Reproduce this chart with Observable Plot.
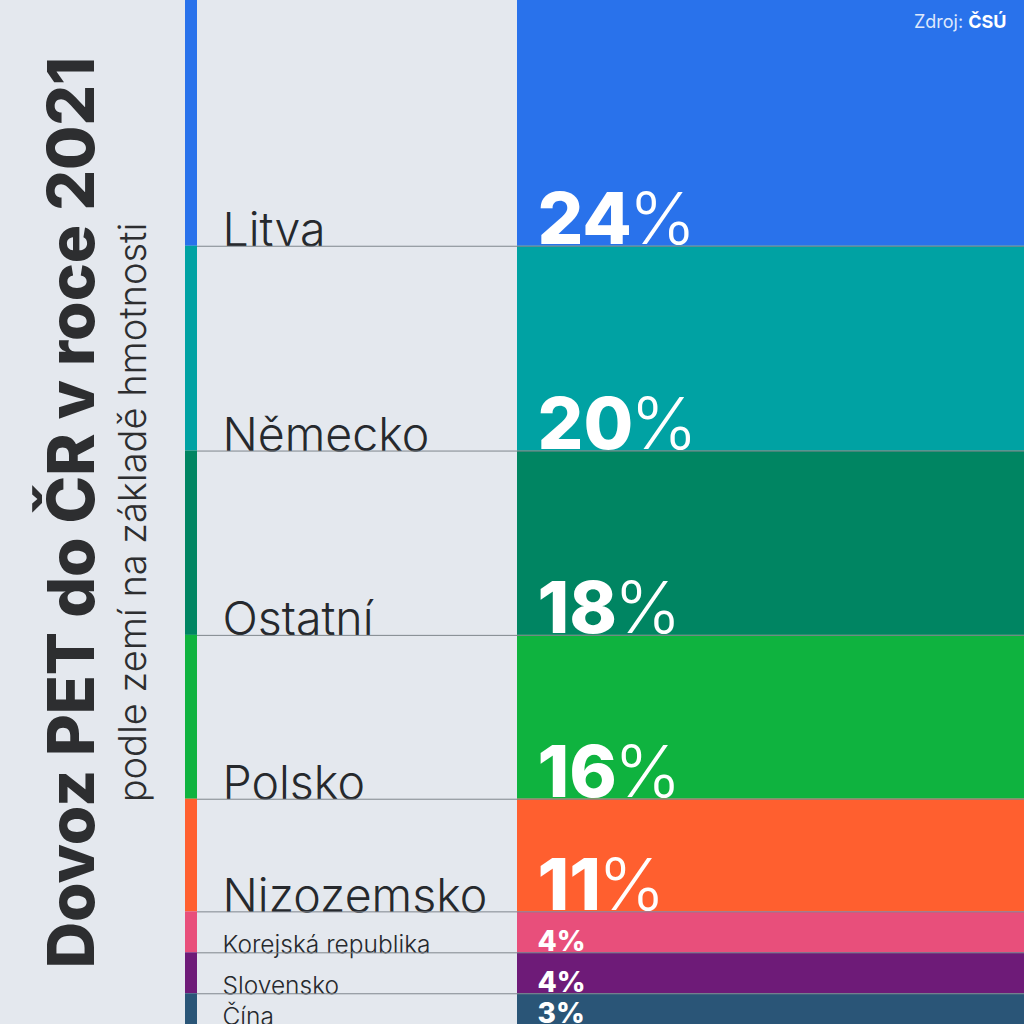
<!DOCTYPE html>
<html>
<head>
<meta charset="utf-8">
<script src="https://cdn.jsdelivr.net/npm/d3@7"></script>
<script src="https://cdn.jsdelivr.net/npm/@observablehq/plot@0.6"></script>
<style>
  html, body { margin: 0; padding: 0; background: #e4e8ee; }
  svg { display: block; }
</style>
</head>
<body>
<div id="chart"></div>
<script>
const countries = ["Litva", "Německo", "Ostatní", "Polsko", "Nizozemsko", "Korejská republika", "Slovensko", "Čína"];
const shares = [24, 20, 18, 16, 11, 4, 4, 3];
const colors = ["#2972eb", "#00a2a3", "#008562", "#0fb33f", "#ff5f2f", "#e84f7b", "#6e1b78", "#2a5577"];
const title = "Dovoz PET do ČR v roce 2021";
const subtitle = "podle zemí na základě hmotnosti";
const sourceLabel = "Zdroj:";
const sourceName = "ČSÚ";

// build a table with cumulative positions
let acc = 0;
const rows = countries.map((c, i) => {
  const y1 = acc; acc += shares[i];
  return {country: c, share: shares[i], color: colors[i], y1, y2: acc, big: shares[i] >= 10};
});

const FONT = "Inter, 'Noto Sans', sans-serif";
const W = 1024, H = 1024;
const stripX1 = 185, stripX2 = 197, barX1 = 517, labelX = 222, pctX = 537;

const chart = Plot.plot({
  width: W, height: H,
  margin: 0,
  style: {background: "#e4e8ee", fontFamily: FONT, overflow: "visible"},
  x: {type: "linear", domain: [0, W], range: [0, W], axis: null},
  y: {type: "linear", domain: [0, 100], range: [0, H], axis: null},
  color: {type: "identity"},
  marks: [
    Plot.rect(rows, {x1: stripX1, x2: stripX2, y1: "y1", y2: "y2", fill: "color"}),
    Plot.rect(rows, {x1: barX1, x2: W, y1: "y1", y2: "y2", fill: "color"}),
    Plot.text(rows, {
      x: labelX, y: "y2", text: "country", textAnchor: "start", lineAnchor: "bottom",
      fontSize: d => d.big ? 46.5 : 24.5, fontWeight: 300, fill: "#26292d", dy: 0
    }),
    Plot.text(rows, {
      x: pctX, y: "y2", text: d => d.share + "%", textAnchor: "start", lineAnchor: "bottom",
      fontSize: d => d.big ? 72 : 28, fontWeight: 800, fill: "white", dy: -2
    }),
    Plot.ruleY(rows.slice(0, -1), {y: "y2", x1: stripX2, x2: W, stroke: "#7f868d", strokeWidth: 1}),
    Plot.text([title], {
      x: 93, y: 50, text: d => d, rotate: -90, textAnchor: "middle", lineAnchor: "bottom",
      fontSize: 64, fontWeight: 800, fill: "#2d2e30"
    }),
    Plot.text([subtitle], {
      x: 145, y: 50, text: d => d, rotate: -90, textAnchor: "middle", lineAnchor: "bottom",
      fontSize: 38, fontWeight: 300, fill: "#2d2e30"
    }),
    Plot.text([sourceLabel + " " + sourceName], {
      x: 1006, y: 2.65, text: d => d, textAnchor: "end", lineAnchor: "bottom",
      fontSize: 18, fontWeight: 400, fill: "#dfe8fb"
    })
  ]
});

// split weights inside the percentage labels and the source line
d3.select(chart).selectAll("text").each(function() {
  const t = this.textContent;
  const sel = d3.select(this);
  if (/^\d+%$/.test(t)) {
    const size = parseFloat(this.getAttribute("font-size"));
    if (size > 40) {
      const num = t.replace("%", "");
      this.textContent = "";
      sel.append("tspan").attr("font-weight", 800).text(num);
      sel.append("tspan").attr("font-weight", 300).attr("dx", -3).text("%");
    }
  } else if (t === sourceLabel + " " + sourceName) {
    this.textContent = "";
    sel.append("tspan").attr("font-weight", 400).text(sourceLabel + " ");
    sel.append("tspan").attr("font-weight", 700).attr("fill", "#ffffff").text(sourceName);
  }
});

document.getElementById("chart").append(chart);
</script>
</body>
</html>
